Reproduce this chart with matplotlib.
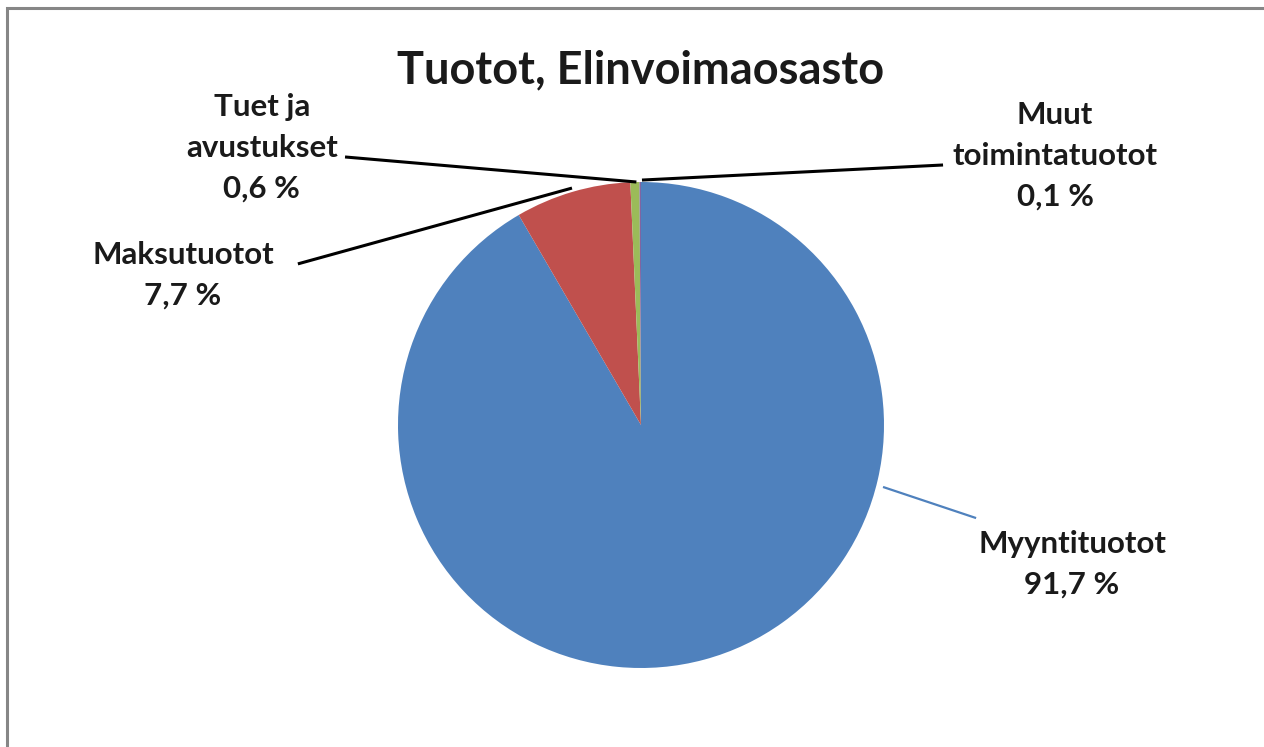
import matplotlib.pyplot as plt
import matplotlib.patches as mpatches
import numpy as np

plt.rcParams['font.family'] = ['Lato', 'DejaVu Sans']

LABELS = ['Myyntituotot', 'Maksutuotot', 'Tuet ja\navustukset', 'Muut\ntoimintatuotot']
SHARES = [91.7, 7.7, 0.6, 0.1]
PCT_TEXT = ['91,7 %', '7,7 %', '0,6 %', '0,1 %']
COLORS = ['#4F81BD', '#C0504D', '#9BBB59', '#8064A2']

W, H = 1264, 747
fig = plt.figure(figsize=(W / 100, H / 100), dpi=100)

# outer chart frame (only top and left edges visible)
frame = mpatches.Rectangle((7 / W, -0.1), 1.2, 1 - 8 / H + 0.1, transform=fig.transFigure,
                           fill=False, edgecolor='#868686', linewidth=2.2)
fig.patches.append(frame)

cx, cy, r = 641, 425, 243
ax = fig.add_axes([(cx - r) / W, (H - cy - r) / H, 2 * r / W, 2 * r / H])
ax.pie(SHARES, colors=COLORS, startangle=90, counterclock=False, radius=1,
       wedgeprops=dict(linewidth=0))
ax.set_xlim(-1, 1)
ax.set_ylim(-1, 1)
ax.set_aspect('equal')
ax.axis('off')

fig.text(cx / W, 1 - 70 / H, 'Tuotot, Elinvoimaosasto', ha='center', va='center',
         fontsize=32.5, fontweight='bold', color='#1a1a1a')

# label placement (data units, radius = 1)
label_pos = [(1.774, -0.572), (-1.885, 0.617), (-1.56, 1.14), (1.704, 1.107)]
line_start = [(0.996, -0.255), (-0.284, 0.975), (-0.019, 1.0), (0.004, 1.008)]
line_end = [(1.379, -0.383), (-1.412, 0.663), (-1.218, 1.103), (1.243, 1.07)]
line_col = ['#4F81BD', 'black', 'black', 'black']

for lab, pct, pos, s, e, lc in zip(LABELS, PCT_TEXT, label_pos, line_start, line_end, line_col):
    ax.plot([s[0], e[0]], [s[1], e[1]], color=lc, linewidth=1.6 if lc != 'black' else 2.2,
            clip_on=False, solid_capstyle='butt')
    ax.text(pos[0], pos[1], f'{lab}\n{pct}', ha='center', va='center', fontsize=22.5,
            fontweight='bold', color='#1a1a1a', linespacing=1.55, clip_on=False)

fig.savefig('out.png', dpi=100)
